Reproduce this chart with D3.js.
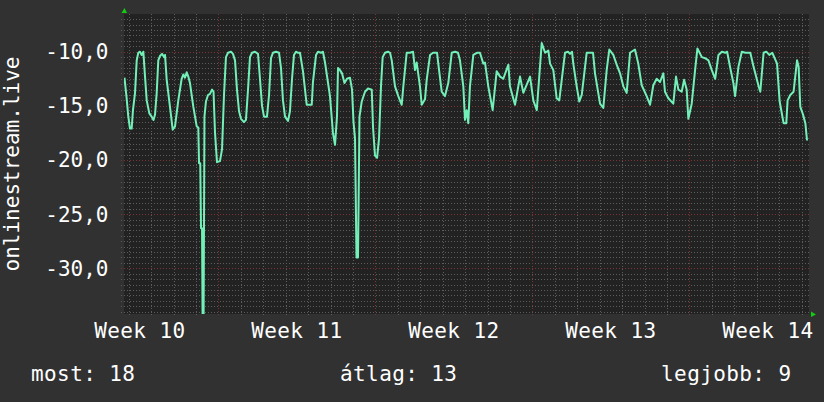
<!DOCTYPE html>
<html><head><meta charset="utf-8">
<script src="https://cdn.jsdelivr.net/npm/d3@7"></script>
<style>html,body{margin:0;padding:0;background:#313131;} svg{display:block}</style>
</head><body><svg id="c" width="824" height="402"></svg>
<script>
const seriesName = "onlinestream.live";
const startTime = "2024-03-06T19:00:00Z";
const endTime = "2024-04-06T08:00:00Z";
const yMin = -34.22, yMax = -6.52;
const yTicks = [-30, -25, -20, -15, -10];
const weekLabelPrefix = "Week ";
const legendNames = ["most", "átlag", "legjobb"];
const legendValues = [18, 13, 9];

// hours since startTime
const hours = [0.5,2.7,4.6,6.4,8.2,9.6,11.8,13.6,15.3,17.1,18.9,20.7,22.5,24.3,27.1,29.6,31.6,33.2,35.0,36.7,38.5,40.7,42.8,43.9,45.7,49.2,52.1,54.6,58.1,61.7,63.5,65.3,67.1,68.8,70.6,74.2,77.8,79.5,80.3,81.6,82.4,83.5,84.2,85.1,86.1,87.7,89.9,92.0,94.2,95.8,97.4,99.5,102.7,104.9,107.0,109.1,
111.3,114.5,116.6,118.8,120.9,123.1,125.2,128.4,130.5,132.7,134.8,137.0,140.2,143.4,145.5,147.7,149.8,153.0,155.2,157.3,159.4,162.6,165.9,168.0,170.1,172.3,175.5,177.6,179.8,181.9,184.0,186.2,
188.3,191.5,195.5,200.9,202.2,205.5,207.6,210.8,212.9,215.1,220.4,223.6,225.8,227.9,229.0,231.1,233.3,235.9,238.6,241.8,244.0,245.6,247.2,248.8,250.4,252.0,254.4,257.9,261.1,265.1,266.5,268.6,270.8,272.9,275.1,276.8,279.3,282.5,284.7,286.5,290.0,293.5,297.2,298.9,302.5,306.0,309.3,311.4,313.2,316.7,318.6,322.1,323.9,327.5,330.7,335.0,336.3,340.0,343.5,347.0,350.7,354.2,357.4,359.5,363.1,364.9,366.7,368.4,370.2,373.8,377.7,380.9,384.5,386.3,389.8,394.5,398.8,402.4,405.9,411.3,413.0,418.4,423.8,427.3,434.5,438.0,441.7,447.0,450.6,454.1,
455.9,459.4,463.0,465.8,468.4,471.9,475.1,477.3,479.4,480.8,484.4,487.2,489.8,495.1,498.7,501.9,504.0,509.4,512.9,516.5,519.3,523.6,527.2,530.8,534.3,537.9,541.5,546.8,550.3,554.0,559.3,562.9,566.4,570.0,573.6,577.1,578.9,582.5,587.8,590.7,593.2,596.8,599.3,602.1,603.9,607.5,611.1,613.6,618.3,621.8,625.4,629.0,632.6,636.1,639.8,643.3,645.4,648.5,652.1,653.9,657.5,661.1,664.9,670.2,673.7,679.1,680.9,684.4,687.3,690.5,693.7,698.8,701.6,705.8,708.7,710.1,713.0,716.5,720.2,721.9,723.7,726.6,729.1,730.9];

const values = [-12.4,-14.2,-16.0,-17.1,-17.1,-15.4,-13.8,-10.8,-10.1,-10.0,-10.3,-10.0,-12.3,-14.5,-15.7,-16.0,-16.3,-15.8,-13.8,-10.8,-10.4,-10.2,-10.5,-10.3,-12.6,-15.1,-17.2,-16.9,-14.5,-12.5,-12.1,-12.4,-11.9,-12.3,-12.9,-15.1,-16.9,-17.0,-20.3,-20.3,-26.3,-26.3,-36,-36,-16.0,-14.6,-14.0,-13.9,-13.5,-13.7,-17.5,-20.2,-20.1,-19.0,-14.0,-10.5,
-10.1,-10.0,-10.2,-10.8,-13.5,-15.5,-16.2,-16.5,-16.3,-13.5,-10.5,-10.1,-10.0,-10.2,-12.5,-15.0,-16.0,-16.0,-14.0,-10.6,-10.1,-10.0,-10.1,-11.5,-14.5,-16.0,-16.4,-15.5,-12.5,-10.3,-10.0,-10.1,
-10.1,-11.8,-14.9,-14.9,-12.8,-10.3,-10.0,-10.1,-10.0,-11.0,-14.1,-17.5,-18.6,-16.0,-11.5,-11.7,-12.0,-12.9,-12.5,-12.4,-13.5,-16.5,-18.0,-29.0,-29.0,-16.0,-14.6,-13.7,-13.4,-13.5,-17.0,-19.6,-19.8,-18.0,-13.0,-10.5,-10.1,-10.0,-10.1,-10.8,-13.2,-14.1,-14.9,-13.2,-10.1,-10.1,-10.0,-11.7,-11.0,-13.2,-14.9,-14.4,-12.6,-10.3,-10.1,-10.1,-11.1,-13.7,-14.1,-12.9,-10.1,-10.0,-10.1,-10.8,-13.2,-16.3,-15.4,-16.6,-13.2,-10.3,-10.1,-10.1,-11.1,-11.0,-13.2,-15.4,-11.8,-12.3,-12.5,-11.2,-13.2,-14.9,-12.3,-13.8,-12.3,-14.5,-15.4,-9.2,-10.1,-9.9,
-11.1,-11.7,-14.3,-14.5,-12.6,-10.1,-10.0,-10.2,-10.0,-11.1,-13.2,-14.6,-14.0,-10.1,-10.1,-10.1,-12.0,-14.8,-15.2,-11.7,-9.8,-10.3,-11.2,-12.0,-13.2,-13.8,-10.1,-9.8,-11.1,-13.1,-14.1,-14.9,-13.1,-12.5,-12.8,-12.0,-13.7,-14.3,-14.8,-12.3,-13.5,-13.7,-12.6,-13.5,-16.2,-14.8,-11.7,-9.7,-10.5,-10.6,-10.8,-11.7,-12.5,-10.3,-10.0,-10.1,-10.0,-11.4,-12.9,-14.1,-11.4,-10.0,-10.1,-10.1,-11.4,-13.2,-13.7,-10.1,-10.0,-10.3,-10.1,-11.1,-14.6,-16.6,-16.6,-14.5,-14.0,-13.7,-10.8,-11.4,-15.1,-15.8,-16.6,-18.2];

const W = 824, H = 402;
const plot = {left: 124, right: 809, top: 14, bottom: 314};
const FONT = "'DejaVu Sans Mono', monospace";
const FS = "21px";
const LS = "0.4px";
const svg = d3.select("#c");

svg.append("rect").attr("width", W).attr("height", H).attr("fill", "#313131");

const t0 = new Date(startTime);
const x = d3.scaleUtc().domain([t0, new Date(endTime)]).range([plot.left, plot.right]);
const y = d3.scaleLinear().domain([yMin, yMax]).range([plot.bottom, plot.top]);

svg.append("rect").attr("x", plot.left).attr("y", plot.top)
  .attr("width", plot.right - plot.left).attr("height", plot.bottom - plot.top)
  .attr("fill", "#222222");

const grid = svg.append("g");
const minorY = d3.range(Math.ceil(yMin * 2) / 2, yMax, 0.5).filter(v => Math.abs(v % 5) > 1e-6);
grid.selectAll(".hm").data(minorY).join("line")
  .attr("x1", plot.left - 3).attr("x2", plot.right)
  .attr("y1", d => Math.round(y(d)) + 0.5).attr("y2", d => Math.round(y(d)) + 0.5)
  .attr("stroke", "#5c5c5c").attr("stroke-width", 1).attr("stroke-dasharray", "1,2");
const days = x.ticks(d3.utcDay).filter(d => d.getUTCDay() !== 1);
grid.selectAll(".vm").data(days).join("line")
  .attr("x1", d => Math.round(x(d)) + 0.5).attr("x2", d => Math.round(x(d)) + 0.5)
  .attr("y1", plot.top).attr("y2", plot.bottom + 3)
  .attr("stroke", "#5c5c5c").attr("stroke-width", 1).attr("stroke-dasharray", "1,2");
grid.selectAll(".hM").data(yTicks).join("line")
  .attr("x1", plot.left - 3).attr("x2", plot.right)
  .attr("y1", d => Math.round(y(d)) + 0.5).attr("y2", d => Math.round(y(d)) + 0.5)
  .attr("stroke", "#7a3434").attr("stroke-width", 1).attr("stroke-dasharray", "1,2");
const mondays = x.ticks(d3.utcMonday);
grid.selectAll(".vM").data(mondays).join("line")
  .attr("x1", d => Math.round(x(d)) + 0.5).attr("x2", d => Math.round(x(d)) + 0.5)
  .attr("y1", plot.top).attr("y2", plot.bottom + 3)
  .attr("stroke", "#7a3434").attr("stroke-width", 1).attr("stroke-dasharray", "1,2");

svg.append("clipPath").attr("id", "clip").append("rect")
  .attr("x", plot.left).attr("y", plot.top)
  .attr("width", plot.right - plot.left).attr("height", plot.bottom - plot.top);
const pts = hours.map((h, i) => ({t: new Date(t0.getTime() + h * 3600e3), v: values[i]}));
svg.append("path").datum(pts)
  .attr("clip-path", "url(#clip)")
  .attr("fill", "none").attr("stroke", "#72f0b8").attr("stroke-width", 2)
  .attr("stroke-linejoin", "round")
  .attr("d", d3.line().x(d => x(d.t)).y(d => y(d.v)));

const fmt = d3.formatLocale({decimal: ",", thousands: ".", grouping: [3], currency: ["", ""], minus: "-"}).format(".1f");
svg.append("g").selectAll("text").data(yTicks).join("text")
  .attr("x", 108.5).attr("y", d => y(d) + 7.5)
  .attr("text-anchor", "end").attr("fill", "#ffffff")
  .style("font-family", FONT).style("font-size", FS)
  .text(d => fmt(d));

const weeks = d3.utcMonday.range(d3.utcMonday.floor(x.domain()[0]), x.domain()[1]);
svg.append("g").selectAll("text").data(weeks).join("text")
  .attr("x", d => x(new Date(d.getTime() + 3.5 * 86400e3)))
  .attr("y", 337.5)
  .attr("text-anchor", "middle").attr("fill", "#ffffff")
  .style("font-family", FONT).style("font-size", FS).style("letter-spacing", LS)
  .text(d => weekLabelPrefix + d3.utcFormat("%V")(d));

svg.append("text")
  .attr("transform", `translate(19,${(plot.top + plot.bottom) / 2}) rotate(-90)`)
  .attr("text-anchor", "middle").attr("fill", "#ffffff")
  .style("font-family", FONT).style("font-size", FS)
  .text(seriesName);

const legX = [31, 340, 791.5];
const legAnchor = ["start", "start", "end"];
svg.append("g").selectAll("text").data(legendNames).join("text")
  .attr("x", (d, i) => legX[i]).attr("y", 381)
  .attr("text-anchor", (d, i) => legAnchor[i]).attr("fill", "#ffffff")
  .style("font-family", FONT).style("font-size", FS).style("letter-spacing", LS)
  .text((d, i) => `${d}: ${legendValues[i]}`);

svg.append("path")
  .attr("d", `M${plot.left - 2.5},${plot.top - 1}L${plot.left + 3},${plot.top - 1}L${plot.left + 0.5},${plot.top - 6}Z`)
  .attr("fill", "#11cc11");
svg.append("path")
  .attr("d", `M${plot.right + 2},${plot.bottom - 2.5}L${plot.right + 2},${plot.bottom + 3}L${plot.right + 7},${plot.bottom + 0.5}Z`)
  .attr("fill", "#11cc11");
</script></body></html>
